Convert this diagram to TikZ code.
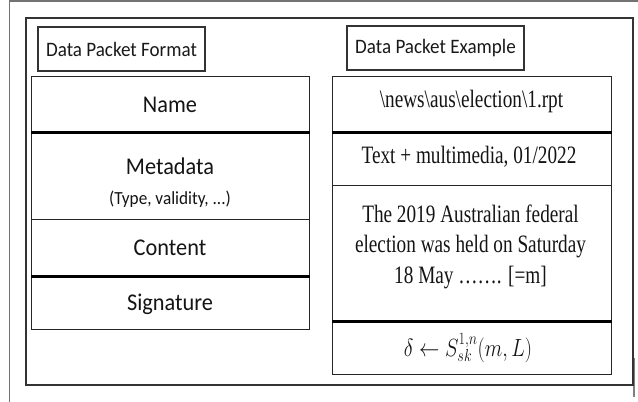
\documentclass[tikz,border=0pt]{standalone}
\usepackage{fontspec}
\setmainfont[FakeStretch=0.93]{Carlito}
\newfontfamily\tnr[FakeStretch=0.77]{Liberation Serif}
\begin{document}
\begin{tikzpicture}[x=1pt,y=-1pt,
  frameline/.style={draw=black!55, line width=1.4pt},
  cellbox/.style={draw=black!85, line width=1.3pt, inner sep=0pt, anchor=north west, minimum width=278pt},
  titlebox/.style={draw=black!80, line width=1.3pt, inner sep=0pt, font=\fontsize{20.5}{24}\selectfont, text=black!90},
  sepline/.style={black, line width=2.6pt},
  lab/.style={anchor=base, inner sep=0pt, font=\fontsize{24}{28}\selectfont, text=black!92},
  sublab/.style={anchor=base, inner sep=0pt, font=\fontsize{18.5}{22}\selectfont, text=black!92},
  ser/.style={anchor=base, inner sep=0pt, font=\tnr\fontsize{25}{30}\selectfont, text=black!92}]
\useasboundingbox (0,0) rectangle (638,402);
\fill[white] (0,0) rectangle (638,402);
% outer frame remnants
\coordinate (o1) at (9.5,402);
\coordinate (o2) at (9.5,1);
\coordinate (o3) at (638,1);
\draw[frameline] (o1) -- (o2) -- (o3);
\coordinate (r1) at (634,358);
\coordinate (r2) at (634,397);
\draw[draw=black!50, line width=2pt] (r1) -- (r2);
% inner frame
\node[draw=black!80, line width=1.5pt, inner sep=0pt, anchor=north west, minimum width=607pt, minimum height=367pt] (frame) at (25,17) {};
% titles
\node[titlebox, minimum width=167pt, minimum height=44pt] (fmt) at (121.5,49) {Data Packet Format};
\node[titlebox, minimum width=177pt, minimum height=44pt] (ex) at (435.5,48) {Data Packet Example};
% left table
\node[cellbox, minimum height=55pt] (name) at (31,76) {};
\node[cellbox, minimum height=88pt] (meta) at (31,131) {};
\node[cellbox, minimum height=56pt] (cont) at (31,219) {};
\node[cellbox, minimum height=54pt] (sig) at (31,275) {};
\draw[sepline] (name.south west) -- (name.south east);
\draw[sepline] (cont.south west) -- (cont.south east);
\node[lab] (tname) at (170,112) {Name};
\node[lab] (tmeta) at (170,174) {Metadata};
\node[sublab] (tmeta2) at (170,204) {(Type, validity, ...)};
\node[lab] (tcont) at (170,255) {Content};
\node[lab] (tsig) at (170,310) {Signature};
% right table
\node[cellbox, minimum width=279pt, minimum height=55pt] (rname) at (332,76) {};
\node[cellbox, minimum width=279pt, minimum height=54pt] (rmeta) at (332,131) {};
\node[cellbox, minimum width=279pt, minimum height=135pt] (rcont) at (332,185) {};
\node[cellbox, minimum width=279pt, minimum height=54pt] (rsig) at (332,320) {};
\draw[sepline] (rname.south west) -- (rname.south east);
\draw[sepline] (rcont.south west) -- (rcont.south east);
\node[ser] (trname) at (471.5,107) {\textbackslash news\textbackslash aus\textbackslash election\textbackslash 1.rpt};
\node[ser] (trmeta) at (469,163) {Text + multimedia, 01/2022};
\node[ser] (trc1) at (470.5,222) {The 2019 Australian federal};
\node[ser] (trc2) at (470.5,252) {election was held on Saturday};
\node[ser] (trc3) at (470.5,283) {18 May ……. [=m]};
\node[anchor=base, inner sep=0pt, font=\fontsize{24}{28}\selectfont, text=black!92] (trsig) at (468,356) {\scalebox{0.82}[1]{$\delta \leftarrow S^{1,n}_{sk}(m,L)$}};
\end{tikzpicture}
\end{document}
